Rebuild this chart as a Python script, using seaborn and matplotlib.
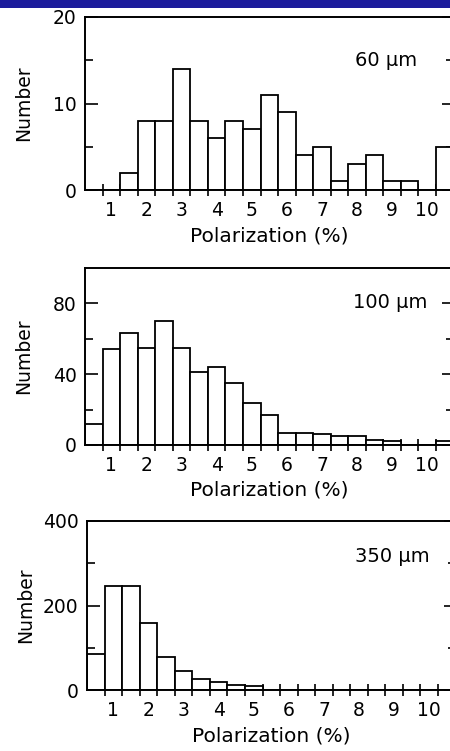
import matplotlib
matplotlib.use("Agg")
import matplotlib.pyplot as plt
import matplotlib.transforms as mtransforms
import seaborn as sns
import pandas as pd
from matplotlib.patches import Rectangle
from matplotlib.ticker import FixedLocator

# ---- data -------------------------------------------------------------
bin_centers = [0.5, 1.0, 1.5, 2.0, 2.5, 3.0, 3.5, 4.0, 4.5, 5.0, 5.5,
               6.0, 6.5, 7.0, 7.5, 8.0, 8.5, 9.0, 9.5, 10.0, 10.5]
bin_edges = [0.25, 0.75, 1.25, 1.75, 2.25, 2.75, 3.25, 3.75, 4.25, 4.75, 5.25,
             5.75, 6.25, 6.75, 7.25, 7.75, 8.25, 8.75, 9.25, 9.75, 10.25, 10.75]
counts_60 = [0, 0, 2, 8, 8, 14, 8, 6, 8, 7, 11, 9, 4, 5, 1, 3, 4, 1, 1, 0, 5]
counts_100 = [12, 54, 63, 55, 70, 55, 41, 44, 35, 24, 17, 7, 7, 6, 5, 5, 3, 2, 0, 0, 2]
counts_350 = [85, 247, 247, 158, 77, 46, 25, 19, 13, 9, 0, 0, 0, 0, 0, 0, 0, 0, 0, 0, 0]
x_tick_values = [1, 2, 3, 4, 5, 6, 7, 8, 9, 10]
x_tick_labels = ["1", "2", "3", "4", "5", "6", "7", "8", "9", "10"]
panel_labels = ["60 μm", "100 μm", "350 μm"]
y_major = [[0, 10, 20], [0, 40, 80], [0, 200, 400]]
y_minor = [[5, 15], [20, 60], [100, 300]]
y_limits = [20, 100, 400]
label_y = [15, 80.5, 315]
label_xfrac = [0.90, 0.928, 0.93]

# ---- style ------------------------------------------------------------
sns.set_style("ticks")
plt.rcParams["font.family"] = ["DejaVu Sans"]
plt.rcParams["font.size"] = 13
plt.rcParams["text.color"] = "black"
plt.rcParams["axes.labelcolor"] = "black"
plt.rcParams["xtick.color"] = "black"
plt.rcParams["ytick.color"] = "black"

W, H = 450, 751
fig = plt.figure(figsize=(W / 100, H / 100), dpi=100)
fig.patch.set_facecolor("white")
fig.patches.append(Rectangle((0, 1 - 8 / H), 1, 8 / H, transform=fig.transFigure,
                             facecolor="#1c1c9c", edgecolor="none", zorder=10))

# axes boxes in pixels: (left, top, bottom)
boxes = [(85, 17, 190), (85, 268, 445), (87, 521, 690)]
axes_w = 368.6

data_sets = [counts_60, counts_100, counts_350]
for i, (left, top, bottom) in enumerate(boxes):
    h = bottom - top
    ax = fig.add_axes([left / W, 1 - bottom / H, axes_w / W, h / H])
    df = pd.DataFrame({"pol": bin_centers, "n": data_sets[i]})
    sns.histplot(data=df, x="pol", weights="n", bins=bin_edges, ax=ax,
                 color="white", edgecolor="black", linewidth=1.3, alpha=1)
    ax.set_xlim(0.25, 10.75)
    ax.set_ylim(0, y_limits[i])
    for s in ax.spines.values():
        s.set_visible(True)
        s.set_linewidth(1.4)
        s.set_color("black")
    # x ticks: labels at integers (no marks), marks at bin edges
    ax.xaxis.set_major_locator(FixedLocator(x_tick_values))
    ax.set_xticklabels(x_tick_labels)
    ax.xaxis.set_minor_locator(FixedLocator(bin_edges[1:-1]))
    ax.tick_params(axis="x", which="major", length=0, pad=8, labelsize=13.5,
                   labelcolor="black")
    ax.tick_params(axis="x", which="minor", length=9, width=1.2,
                   direction="inout", bottom=True, top=False, color="black")
    # y ticks
    ax.yaxis.set_major_locator(FixedLocator(y_major[i]))
    ax.yaxis.set_minor_locator(FixedLocator(y_minor[i]))
    ax.tick_params(axis="y", which="major", length=9, width=1.2, direction="in",
                   left=True, right=True, pad=6, labelsize=13.5,
                   color="black", labelcolor="black")
    ax.tick_params(axis="y", which="minor", length=5.5, width=1.2, direction="in",
                   left=True, right=True, color="black")
    ax.set_xlabel("Polarization (%)", fontsize=14.5, color="black")
    ax.set_ylabel("Number", fontsize=13.5, color="black")
    ax.xaxis.set_label_coords(0.5, -36 / h)
    ax.xaxis.label.set_va("top")
    ax.yaxis.set_label_coords(-52 / axes_w, 0.5)
    trans = mtransforms.blended_transform_factory(ax.transAxes, ax.transData)
    ax.text(label_xfrac[i], label_y[i], panel_labels[i], transform=trans,
            ha="right", va="center", fontsize=14, color="black")

fig.savefig("out.png", dpi=100)
